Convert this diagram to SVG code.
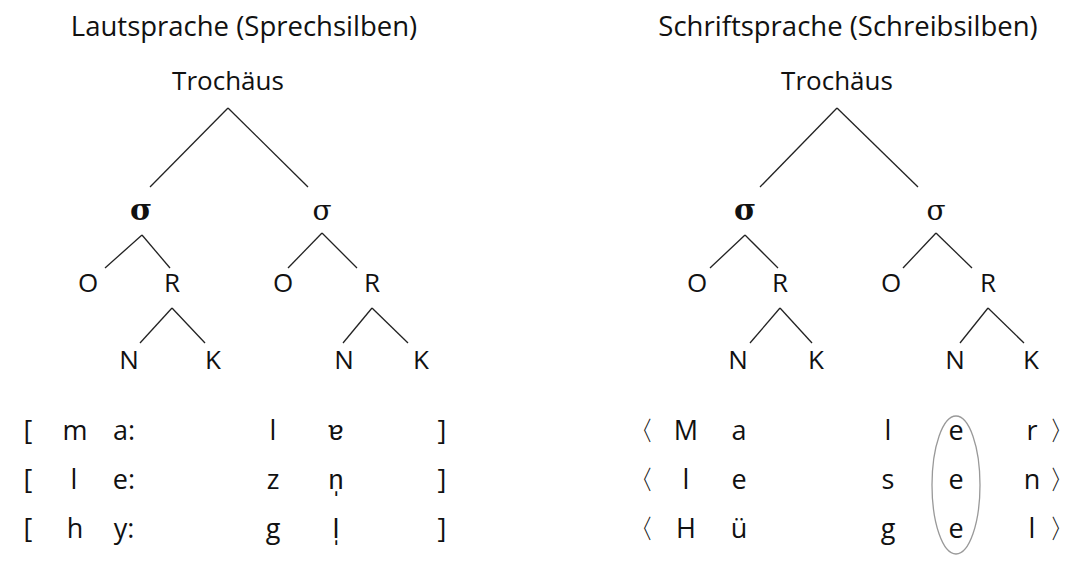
<svg xmlns="http://www.w3.org/2000/svg" width="1082" height="567" viewBox="0 0 1082 567">
<style>
text{font-family:"Open Sans","Liberation Sans",sans-serif;font-size:26px;fill:#111;text-anchor:middle}
.t{font-size:27.5px}
.b{font-size:27px}
.s{font-family:"DejaVu Serif","Liberation Serif",serif;font-size:28px}
.sb{font-family:"DejaVu Serif","Liberation Serif",serif;font-size:30px;font-weight:bold}
line{stroke:#222;stroke-width:1.3}
</style>
<rect width="1082" height="567" fill="#fff"/>
<g id="connectors">
<line x1="228" y1="108" x2="150" y2="187"/><line x1="228" y1="108" x2="308" y2="187"/>
<line x1="142" y1="235" x2="105" y2="268"/><line x1="142" y1="235" x2="170" y2="268"/>
<line x1="322" y1="233" x2="288" y2="268"/><line x1="322" y1="233" x2="357" y2="268"/>
<line x1="172" y1="308" x2="140" y2="343"/><line x1="172" y1="308" x2="205" y2="343"/>
<line x1="372" y1="308" x2="343" y2="343"/><line x1="372" y1="308" x2="408" y2="343"/>
<line x1="837" y1="108" x2="760" y2="187"/><line x1="837" y1="108" x2="918" y2="187"/>
<line x1="745" y1="235" x2="710" y2="268"/><line x1="745" y1="235" x2="778" y2="268"/>
<line x1="936" y1="233" x2="903" y2="268"/><line x1="936" y1="233" x2="972" y2="268"/>
<line x1="780" y1="308" x2="750" y2="343"/><line x1="780" y1="308" x2="812" y2="343"/>
<line x1="988" y1="308" x2="960" y2="343"/><line x1="988" y1="308" x2="1024" y2="343"/>
</g>
<g id="titles"><text x="244" y="36" class="t">Lautsprache (Sprechsilben)</text><text x="848" y="36" class="t">Schriftsprache (Schreibsilben)</text></g>
<g id="n-troch1"><text x="228" y="90">Trochäus</text></g>
<g id="n-troch2"><text x="837" y="90">Trochäus</text></g>
<g id="n-s1"><text x="141" y="220" class="sb">σ</text></g>
<g id="n-s2"><text x="322" y="220" class="s">σ</text></g>
<g id="n-s3"><text x="745" y="220" class="sb">σ</text></g>
<g id="n-s4"><text x="936" y="220" class="s">σ</text></g>
<g id="n-or"><text x="88" y="292">O</text><text x="172" y="292">R</text><text x="283" y="292">O</text><text x="372" y="292">R</text>
<text x="697" y="292">O</text><text x="780" y="292">R</text><text x="891" y="292">O</text><text x="988" y="292">R</text></g>
<g id="n-nk"><text x="129" y="369">N</text><text x="213" y="369">K</text><text x="344" y="369">N</text><text x="421" y="369">K</text>
<text x="738" y="369">N</text><text x="816" y="369">K</text><text x="955" y="369">N</text><text x="1031" y="369">K</text></g>
<g id="phon" class="b">
<text class="b" x="28" y="440">[</text><text class="b" x="75" y="440">m</text><text class="b" x="124" y="440">a:</text><text class="b" x="273" y="440">l</text><text class="b" x="336" y="440">ɐ</text><text class="b" x="442" y="440">]</text>
<text class="b" x="28" y="489">[</text><text class="b" x="74" y="489">l</text><text class="b" x="124" y="489">e:</text><text class="b" x="273" y="489">z</text><text class="b" x="336" y="489">n̩</text><text class="b" x="442" y="489">]</text>
<text class="b" x="28" y="538">[</text><text class="b" x="75" y="538">h</text><text class="b" x="124" y="538">y:</text><text class="b" x="273" y="538">g</text><text class="b" x="336" y="538">l̩</text><text class="b" x="442" y="538">]</text>
</g>
<g id="graph">
<text class="b" x="640" y="440">〈</text><text class="b" x="686" y="440">M</text><text class="b" x="739" y="440">a</text><text class="b" x="888" y="440">l</text><text class="b" x="956" y="440">e</text><text class="b" x="1032" y="440">r</text><text class="b" x="1062" y="440">〉</text>
<text class="b" x="640" y="489">〈</text><text class="b" x="686" y="489">l</text><text class="b" x="739" y="489">e</text><text class="b" x="888" y="489">s</text><text class="b" x="956" y="489">e</text><text class="b" x="1032" y="489">n</text><text class="b" x="1062" y="489">〉</text>
<text class="b" x="640" y="538">〈</text><text class="b" x="686" y="538">H</text><text class="b" x="739" y="538">ü</text><text class="b" x="888" y="538">g</text><text class="b" x="956" y="538">e</text><text class="b" x="1032" y="538">l</text><text class="b" x="1062" y="538">〉</text>
<ellipse cx="956" cy="485" rx="24" ry="69" fill="none" stroke="#999" stroke-width="1.3"/>
</g>
</svg>
